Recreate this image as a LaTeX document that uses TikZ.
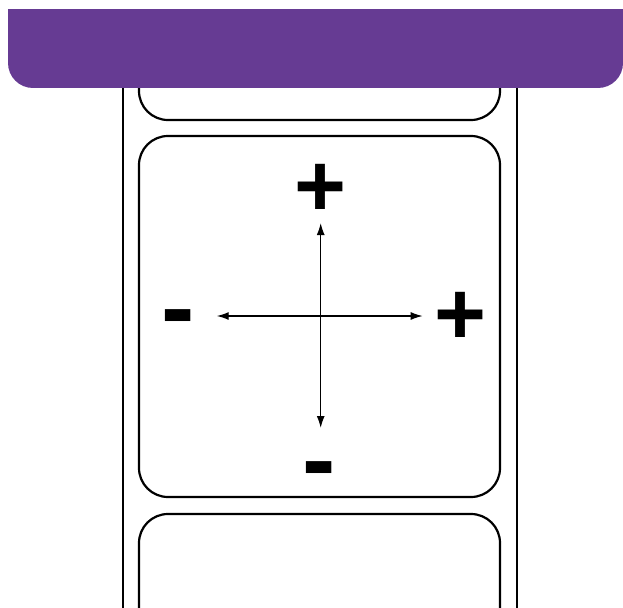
\documentclass[tikz,border=0pt]{standalone}
\usepackage{fontspec}
\setmainfont{Liberation Sans}
\usetikzlibrary{arrows.meta}
\definecolor{bandpurple}{HTML}{663B93}
\tikzset{
  labelbox/.style={draw=black, line width=2.2pt, rounded corners=29pt, fill=white},
  railline/.style={draw=black, line width=2.2pt},
  axisarrow/.style={line width=1.4pt, {Latex[length=12pt,width=8pt]}-{Latex[length=12pt,width=8pt]}},
  signplus/.style={inner sep=0pt, font=\fontsize{89}{89}\selectfont\bfseries},
  signminus/.style={inner sep=0pt, font=\fontsize{100}{100}\selectfont\bfseries}
}
\begin{document}
\begin{tikzpicture}[x=1pt,y=-1pt]
\useasboundingbox (0,0) rectangle (623,607);
\clip (0,0) rectangle (623,607);
% rails
\draw[railline] (123,60) -- (123,620);
\draw[railline] (517,60) -- (517,620);
% labels
\draw[labelbox] (139,30) rectangle (500,120);
\draw[labelbox] (139,136) rectangle (500,497);
\draw[labelbox] (139,514) rectangle (500,700);
% purple band
\begin{scope}
\clip (0,10) rectangle (623,607);
\fill[bandpurple, rounded corners=25pt] (8,-40) rectangle (623,88);
\end{scope}
% signs
\node[signplus] (ptop) at (320,190) {+};
\node[signplus] (pright) at (460.5,318.5) {+};
\node[signminus] (mleft) at (178,326) {-};
\node[signminus] (mbottom) at (319.5,478) {-};
% axes
\coordinate (atop) at (320.7,223);
\coordinate (abot) at (320.7,428);
\coordinate (aleft) at (216.7,316);
\coordinate (aright) at (422.7,316);
\draw[axisarrow] (atop) -- (abot);
\draw[axisarrow] (aleft) -- (aright);
\end{tikzpicture}
\end{document}
